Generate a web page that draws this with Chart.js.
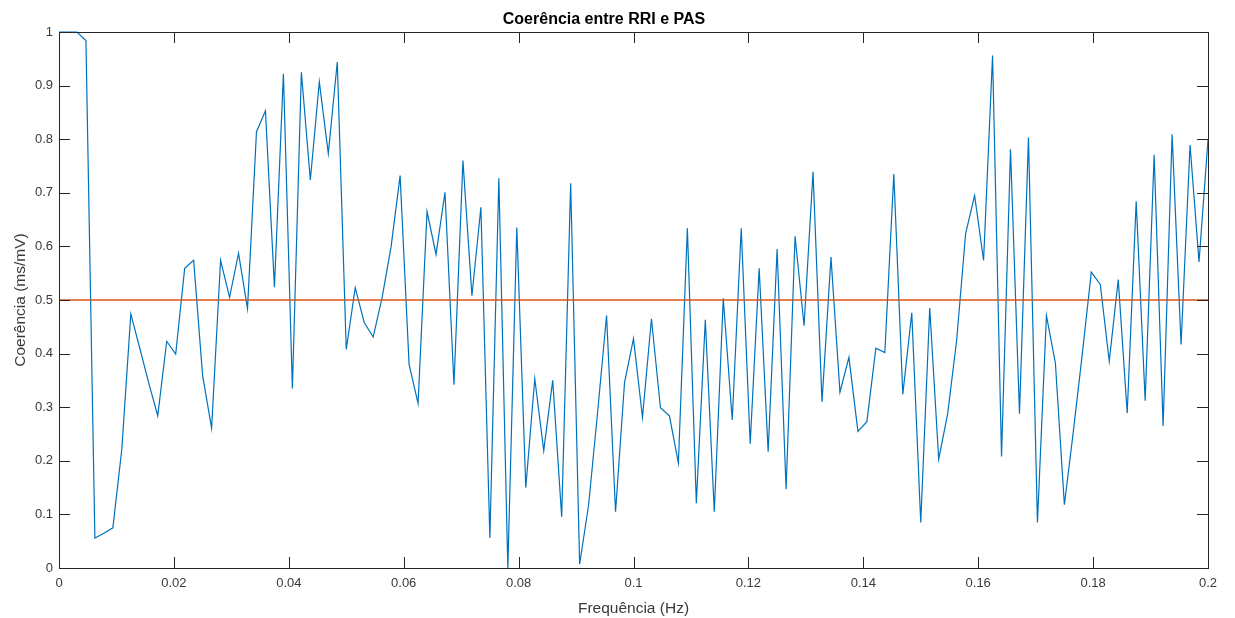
<!DOCTYPE html>
<html>
<head>
<meta charset="utf-8">
<title>Coerência entre RRI e PAS</title>
<script src="https://cdn.jsdelivr.net/npm/chart.js@4.4.1/dist/chart.umd.min.js"></script>
<style>
  html, body { margin: 0; padding: 0; background: #fff; }
  #wrap { width: 1235px; height: 618px; }
</style>
</head>
<body>
<div id="wrap"><canvas id="coherenceChart" width="1235" height="618"></canvas></div>
<script>
// coherence values, one per frequency bin
const coherence = [
  1.0, 1.0, 1.0, 0.984, 0.056, 0.065, 0.075, 0.222, 0.474, 0.41,
  0.345, 0.284, 0.423, 0.399, 0.559, 0.574, 0.359, 0.261, 0.574, 0.505,
  0.587, 0.484, 0.814, 0.853, 0.524, 0.922, 0.335, 0.925, 0.724, 0.907,
  0.773, 0.944, 0.408, 0.523, 0.458, 0.431, 0.505, 0.6, 0.732, 0.380,
  0.307, 0.665, 0.585, 0.701, 0.342, 0.760, 0.508, 0.673, 0.056, 0.727,
  0.0, 0.635, 0.150, 0.353, 0.219, 0.350, 0.095, 0.718, 0.007, 0.118,
  0.29, 0.471, 0.105, 0.346, 0.428, 0.281, 0.465, 0.299, 0.284, 0.196,
  0.634, 0.121, 0.463, 0.105, 0.503, 0.276, 0.634, 0.232, 0.559, 0.217,
  0.595, 0.147, 0.619, 0.452, 0.739, 0.310, 0.580, 0.328, 0.393, 0.255,
  0.273, 0.410, 0.402, 0.735, 0.324, 0.476, 0.085, 0.485, 0.203, 0.288,
  0.425, 0.624, 0.695, 0.574, 0.956, 0.208, 0.781, 0.288, 0.803, 0.085,
  0.471, 0.382, 0.118, 0.255, 0.40, 0.552, 0.529, 0.386, 0.538, 0.289,
  0.684, 0.312, 0.771, 0.265, 0.809, 0.417, 0.789, 0.571, 0.799
];

// frequency bin spacing (Hz) of the spectral estimate
const freqStep = 0.0015625;
const freqRange = [0, 0.2];
const threshold = 0.5;

const xTicks = [0, 0.02, 0.04, 0.06, 0.08, 0.1, 0.12, 0.14, 0.16, 0.18, 0.2];
const yTicks = [0, 0.1, 0.2, 0.3, 0.4, 0.5, 0.6, 0.7, 0.8, 0.9, 1];

const FONT = "'Liberation Sans', Arial, Helvetica, sans-serif";

/**
 * Draws the MATLAB style box with inward tick marks on all four sides
 */
const boxTicksPlugin = {
  id: 'boxTicks',
  afterDraw(chart) {
    const { ctx, chartArea: a, scales } = chart;
    const len = 11;
    ctx.save();
    ctx.strokeStyle = '#262626';
    ctx.lineWidth = 1;
    ctx.beginPath();
    xTicks.forEach(v => {
      const px = Math.round(scales.x.getPixelForValue(v)) + 0.5;
      ctx.moveTo(px, a.bottom); ctx.lineTo(px, a.bottom - len);
      ctx.moveTo(px, a.top); ctx.lineTo(px, a.top + len);
    });
    yTicks.forEach(v => {
      const py = Math.round(scales.y.getPixelForValue(v)) + 0.5;
      ctx.moveTo(a.left, py); ctx.lineTo(a.left + len, py);
      ctx.moveTo(a.right, py); ctx.lineTo(a.right - len, py);
    });
    ctx.stroke();
    ctx.strokeRect(Math.round(a.left) + 0.5, Math.round(a.top) + 0.5,
      Math.round(a.right - a.left), Math.round(a.bottom - a.top));
    ctx.restore();
  }
};

function fmt(v) {
  return String(+Number(v).toFixed(2));
}

function initCoherenceChart() {
  const ctx = document.getElementById('coherenceChart');
  if (!ctx) return;

  const points = coherence.map((c, i) => ({ x: i * freqStep, y: c }));
  const thresholdLine = freqRange.map(f => ({ x: f, y: threshold }));

  new Chart(ctx, {
    type: 'line',
    data: {
      datasets: [
        {
          label: 'Coerência',
          data: points,
          borderColor: '#0072BD',
          borderWidth: 1.2,
          pointRadius: 0,
          tension: 0,
          fill: false,
          clip: 3,
          order: 2
        },
        {
          label: 'Limiar',
          data: thresholdLine,
          borderColor: '#D95319',
          borderWidth: 1.5,
          pointRadius: 0,
          fill: false,
          order: 1
        }
      ]
    },
    options: {
      responsive: false,
      animation: false,
      events: [],
      layout: {
        padding: { left: 0, right: 27, top: 0, bottom: 0 }
      },
      plugins: {
        legend: { display: false },
        tooltip: { enabled: false },
        title: {
          display: true,
          text: 'Coerência entre RRI e PAS',
          color: '#000',
          font: { family: FONT, size: 16, weight: 'bold' },
          padding: { top: 10.4, bottom: 2.4 }
        }
      },
      scales: {
        x: {
          type: 'linear',
          min: freqRange[0],
          max: freqRange[1],
          afterFit(scale) { scale.height = 50; },
          afterBuildTicks(scale) { scale.ticks = xTicks.map(v => ({ value: v })); },
          grid: { display: false, drawTicks: false },
          border: { display: false },
          ticks: {
            color: '#3a3a3a',
            font: { family: FONT, size: 13 },
            padding: 8,
            maxRotation: 0,
            autoSkip: false,
            callback: fmt
          },
          title: {
            display: true,
            text: 'Frequência (Hz)',
            color: '#3a3a3a',
            font: { family: FONT, size: 15.5 },
            padding: { top: 3, bottom: 0 }
          }
        },
        y: {
          min: 0,
          max: 1,
          afterFit(scale) { scale.width = 59; },
          afterBuildTicks(scale) { scale.ticks = yTicks.map(v => ({ value: v })); },
          grid: { display: false, drawTicks: false },
          border: { display: false },
          ticks: {
            color: '#3a3a3a',
            font: { family: FONT, size: 13 },
            padding: 6,
            autoSkip: false,
            callback: fmt
          },
          title: {
            display: true,
            text: 'Coerência (ms/mV)',
            color: '#3a3a3a',
            font: { family: FONT, size: 15.5 },
            padding: { top: 11, bottom: 0 }
          }
        }
      }
    },
    plugins: [boxTicksPlugin]
  });
}

document.addEventListener('DOMContentLoaded', initCoherenceChart);
</script>
</body>
</html>
